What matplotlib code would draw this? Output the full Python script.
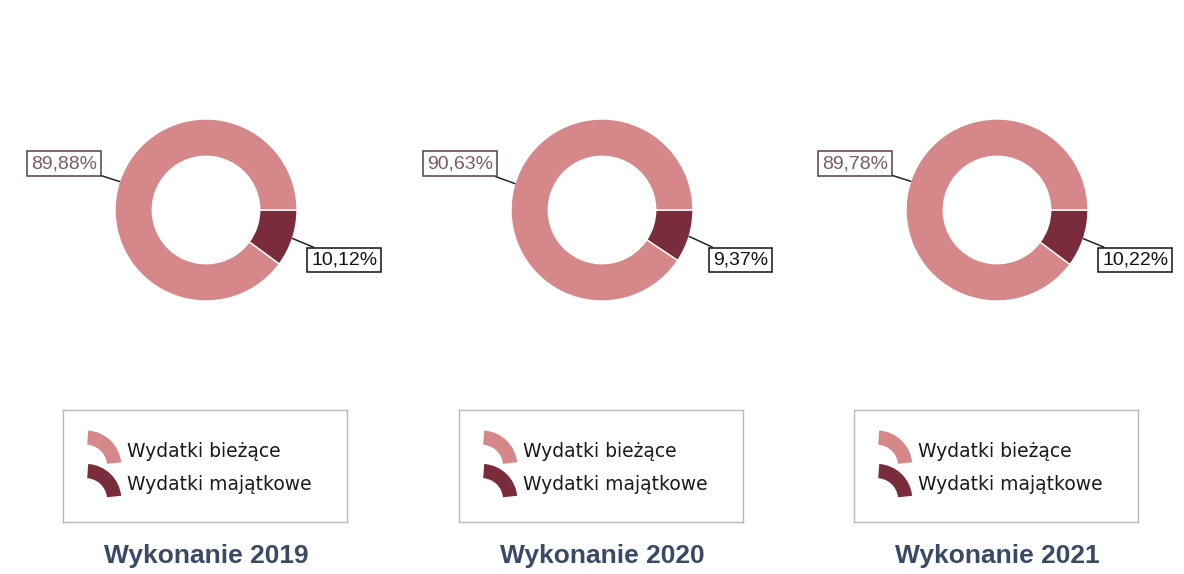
import matplotlib
matplotlib.use("Agg")
import matplotlib.pyplot as plt
from matplotlib.patches import Wedge
from matplotlib.legend_handler import HandlerPatch
import numpy as np

# ---- data ----
years = ["2019", "2020", "2021"]
categories = ["Wydatki bieżące", "Wydatki majątkowe"]
biezace = [89.88, 90.63, 89.78]
majatkowe = [10.12, 9.37, 10.22]
title_prefix = "Wykonanie"

# ---- style ----
LIGHT = "#d6878a"
DARK = "#7a2c3c"
TITLE_COLOR = "#3a4a66"
W, H = 1184, 574
DPI = 100
R_PX = 91.0
centers_x = [206, 602, 997]
center_y_top = 210

fig = plt.figure(figsize=(W / DPI, H / DPI), dpi=DPI, facecolor="white")


def px_rect(x0, y0_top, w, h):
    return [x0 / W, (H - y0_top - h) / H, w / W, h / H]


class HandlerArc(HandlerPatch):
    def create_artists(self, legend, orig_handle, xdescent, ydescent,
                       width, height, fontsize, trans):
        r = width * 1.0
        w = Wedge((-xdescent, -ydescent - 0.15 * height), r, 6, 86,
                  width=r * 0.40, facecolor=orig_handle.get_facecolor(),
                  edgecolor="none", transform=trans)
        return [w]


def fmt(v):
    return f"{v:.2f}".replace(".", ",") + "%"


for i, yr in enumerate(years):
    cx = centers_x[i]
    xl, yl = 2.0, 1.3
    ax = fig.add_axes(px_rect(cx - xl * R_PX, center_y_top - yl * R_PX,
                              2 * xl * R_PX, 2 * yl * R_PX))
    vals = [majatkowe[i], biezace[i]]
    wedges, _ = ax.pie(vals, colors=[DARK, LIGHT], startangle=0,
                       counterclock=False, radius=1.0,
                       wedgeprops=dict(width=0.41, edgecolor="white",
                                       linewidth=1.0))
    ax.set_xlim(-xl, xl)
    ax.set_ylim(-yl, yl)
    ax.set_aspect("equal")
    ax.axis("off")

    # labels
    label_specs = [
        (wedges[1], biezace[i], (-1.56, 0.51), "#7a5a66", "#5a3d48"),
        (wedges[0], majatkowe[i], (1.52, -0.55), "#111111", "#111111"),
    ]
    for wdg, v, pos, tc, ec in label_specs:
        mid = np.deg2rad((wdg.theta1 + wdg.theta2) / 2.0)
        xy = (np.cos(mid), np.sin(mid))
        ax.annotate(fmt(v), xy=xy, xytext=pos, ha="center", va="center",
                    fontsize=14, color=tc, family="Liberation Sans",
                    bbox=dict(boxstyle="square,pad=0.2", fc="white",
                              ec=ec, lw=1.1),
                    arrowprops=dict(arrowstyle="-", color="#222222", lw=1.1,
                                    shrinkA=0, shrinkB=0))

    # legend box
    lax = fig.add_axes(px_rect(cx - 143, 410, 284, 112))
    lax.set_xticks([])
    lax.set_yticks([])
    for s in lax.spines.values():
        s.set_color("#b8b8b8")
        s.set_linewidth(1.0)
    lax.set_facecolor("white")
    handles = [wedges[1], wedges[0]]
    lax.legend(handles, categories, loc="center left",
               bbox_to_anchor=(0.08, 0.49), frameon=False,
               handler_map={Wedge: HandlerArc()},
               prop=dict(family="DejaVu Sans", size=13.5),
               handlelength=1.9, handleheight=1.6, handletextpad=0.3,
               labelspacing=0.5, borderpad=0, borderaxespad=0,
               labelcolor="#1a1a1a")

    fig.text(cx / W, (H - 556) / H, f"{title_prefix} {yr}",
             ha="center", va="center", fontsize=19, fontweight="bold",
             color=TITLE_COLOR, family="Liberation Sans")

fig.savefig("out.png", dpi=DPI, facecolor="white")
